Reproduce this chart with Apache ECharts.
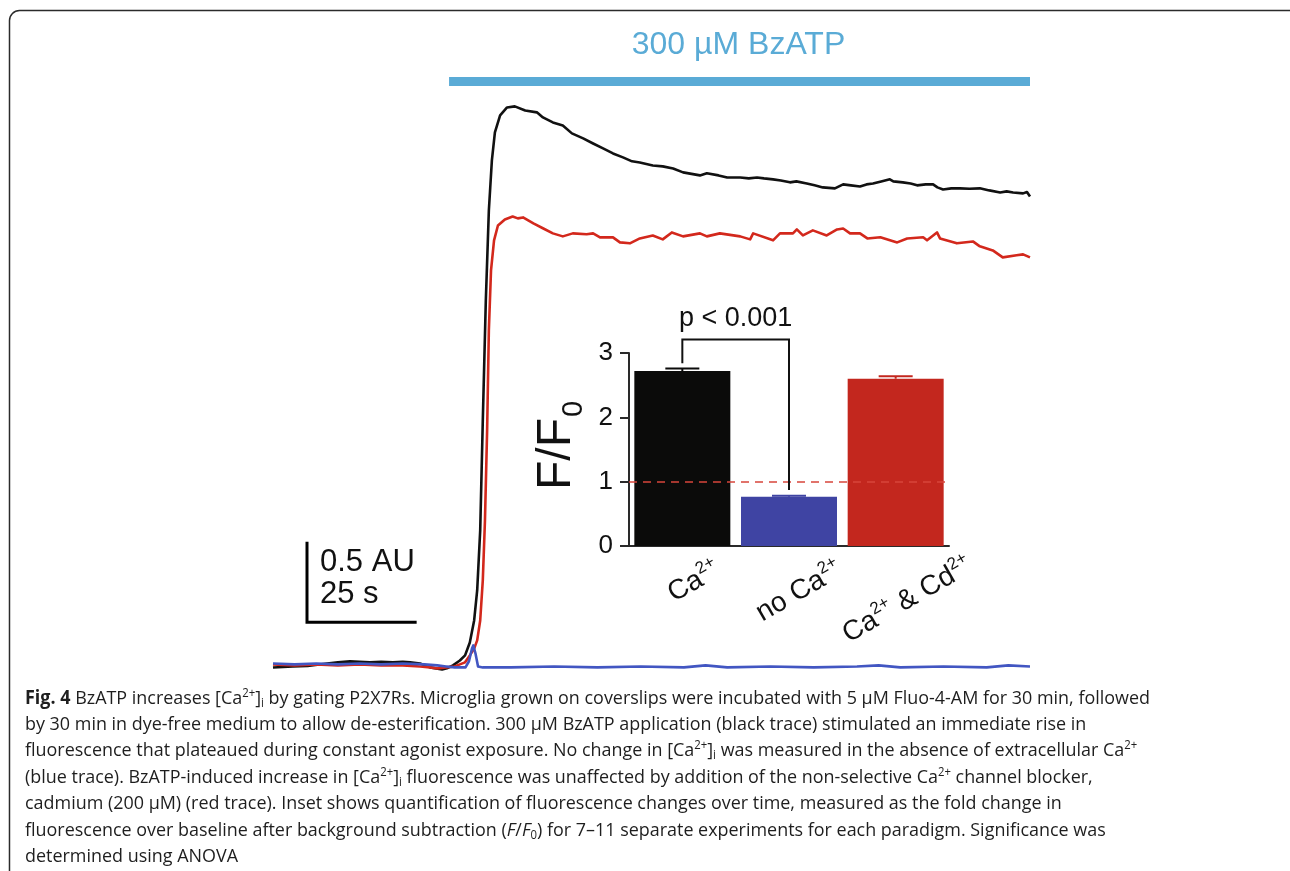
<!DOCTYPE html>
<html>
<head>
<meta charset="utf-8">
<script src="https://cdn.jsdelivr.net/npm/echarts@6/dist/echarts.min.js"></script>
<style>
  html, body { margin: 0; padding: 0; background: #fff; }
  #chart { width: 1290px; height: 871px; }
</style>
</head>
<body>
<div id="chart"></div>
<script>
// ---- Fluo-4 traces: [time (s), fluorescence (AU above baseline)] ----
const blackTrace = [
  [0, -0.02], [4.6, -0.013], [8, -0.01], [12.5, 0.006], [15, 0.013], [17.8, 0.019], [20, 0.016],
  [22.4, 0.013], [25, 0.016], [27.7, 0.013], [30, 0.016], [31.7, 0.013], [34.0, 0.006], [36.3, -0.019],
  [39.1, -0.032], [40.2, -0.025], [41.6, -0.006], [43.2, 0.025], [44.4, 0.057], [45.5, 0.139],
  [46.5, 0.278], [47.2, 0.468], [47.9, 0.848], [48.5, 1.544], [49.2, 2.304], [49.9, 2.873],
  [50.6, 3.19], [51.3, 3.367], [52.5, 3.475], [54.1, 3.525], [55.9, 3.532], [58.3, 3.506],
  [61.0, 3.494], [62.4, 3.462], [64.7, 3.43], [67.0, 3.411], [69.1, 3.361], [71.7, 3.329],
  [74.0, 3.297], [76.3, 3.266], [78.6, 3.234], [80.9, 3.209], [83.0, 3.184], [84.8, 3.177],
  [87.8, 3.158], [90.1, 3.152], [92.5, 3.139], [94.8, 3.114], [98.7, 3.095], [100.3, 3.108],
  [103.0, 3.095], [105.0, 3.082], [108.0, 3.082], [110.0, 3.076], [111.9, 3.082], [113.5, 3.076],
  [115.6, 3.070], [117.4, 3.063], [119.5, 3.051], [121.0, 3.057], [123.4, 3.044], [125.2, 3.032],
  [127.1, 3.019], [129.9, 3.013], [131.8, 3.038], [133.6, 3.032], [135.7, 3.025], [137.2, 3.038],
  [138.7, 3.044], [140.6, 3.057], [142.6, 3.070], [143.4, 3.057], [145.6, 3.051], [147.4, 3.044],
  [148.9, 3.032], [150.9, 3.038], [152.6, 3.038], [153.6, 3.019], [154.9, 3.006], [156.8, 3.013],
  [158.8, 3.013], [161.0, 3.010], [163.4, 3.013], [165.6, 3.000], [168.1, 2.987], [169.6, 2.994],
  [171.1, 2.987], [173.4, 2.981], [174.3, 2.990], [175.0, 2.962]
];
const redTrace = [
  [0, 0.0], [5, -0.006], [10, 0.0], [15, -0.006], [20, 0.0], [25, -0.006], [30, -0.006], [34, -0.013],
  [36.3, -0.019], [38, -0.025], [40, -0.019], [42, -0.013], [43.2, 0.0], [44.4, 0.013], [45.5, 0.057],
  [46.5, 0.1], [47.2, 0.152], [47.9, 0.278], [48.5, 0.532], [49.0, 0.911], [49.5, 1.481], [49.9, 2.114],
  [50.4, 2.494], [51.1, 2.684], [52.0, 2.778], [53.6, 2.816], [55.4, 2.835], [56.6, 2.823], [57.8, 2.829],
  [59.0, 2.81], [60.2, 2.791], [62.5, 2.759], [64.7, 2.728], [67.0, 2.709], [69.3, 2.728], [72.5, 2.722],
  [74.0, 2.728], [75.6, 2.703], [78.6, 2.703], [80.2, 2.671], [82.5, 2.665], [84.8, 2.696], [87.8, 2.715],
  [90.1, 2.690], [92.2, 2.734], [94.8, 2.709], [98.7, 2.728], [100.3, 2.709], [103.3, 2.728], [108.0, 2.709],
  [110.3, 2.690], [111.0, 2.728], [115.6, 2.684], [117.2, 2.728], [120.2, 2.728], [121.1, 2.753],
  [122.5, 2.715], [124.8, 2.747], [128.0, 2.715], [130.4, 2.753], [131.8, 2.759], [133.4, 2.728],
  [135.7, 2.728], [137.4, 2.696], [140.4, 2.703], [144.3, 2.671], [146.6, 2.696], [150.3, 2.703],
  [151.2, 2.684], [153.5, 2.734], [154.2, 2.696], [158.1, 2.665], [161.8, 2.677], [163.4, 2.646],
  [166.4, 2.620], [168.7, 2.576], [171.9, 2.589], [173.4, 2.595], [175.0, 2.576]
];
const blueTrace = [
  [0, 0.006], [5, 0.0], [10, 0.006], [15, 0.0], [20, 0.006], [25, 0.0], [30, 0.006], [35, 0.0],
  [38, -0.006], [40, -0.013], [42, -0.019], [44.5, -0.019], [45.3, 0.02], [46.0, 0.1], [46.3, 0.12],
  [46.8, 0.07], [47.4, -0.013], [48.5, -0.019], [55, -0.019], [65, -0.013], [75, -0.019], [85, -0.013],
  [95, -0.019], [100, -0.006], [105, -0.019], [115, -0.013], [125, -0.019], [135, -0.013], [140, -0.006],
  [145, -0.019], [155, -0.013], [165, -0.019], [170, -0.006], [175, -0.013]
];

// Agonist application window (s) and the level of its marker bar (AU)
const bzatpWindow = [40.7, 175];
const bzatpLevel = 3.69;
const bzatpLabel = '300 µM BzATP';

// Scale bar: corner point, 25 s by 0.5 AU
const scaleBarCorner = [7.86, 0.266];
const scaleBarTime = 25;
const scaleBarAmp = 0.5;
const scaleBarLabels = ['0.5 AU', '25 s'];

// ---- Inset: mean F/F0 with SEM ----
const insetCategories = ['Ca2+', 'no Ca2+', 'Ca2+ & Cd2+'];
const insetMeans = [2.72, 0.766, 2.60];
const insetSem = [0.04, 0.016, 0.04];
const insetColors = ['#0b0b0a', '#3f44a3', '#c3271e'];
const baselineRatio = 1;
const sigPair = [0, 1];
const sigBracketLevel = 3.21;
const sigFeet = [2.84, 0.87];
const sigLabel = 'p < 0.001';

// ---- Caption (rich text: b bold, t text, p superscript, s subscript, i italic) ----
const captionLines = [
  '{b|Fig. 4}{t| BzATP increases [Ca}{p|2+}{t|]}{s|i}{t| by gating P2X7Rs. Microglia grown on coverslips were incubated with 5 µM Fluo-4-AM for 30 min, followed}',
  '{t|by 30 min in dye-free medium to allow de-esterification. 300 µM BzATP application (black trace) stimulated an immediate rise in}',
  '{t|fluorescence that plateaued during constant agonist exposure. No change in [Ca}{p|2+}{t|]}{s|i}{t| was measured in the absence of extracellular Ca}{p|2+}',
  '{t|(blue trace). BzATP-induced increase in [Ca}{p|2+}{t|]}{s|i}{t| fluorescence was unaffected by addition of the non-selective Ca}{p|2+}{t| channel blocker,}',
  '{t|cadmium (200 µM) (red trace). Inset shows quantification of fluorescence changes over time, measured as the fold change in}',
  '{t|fluorescence over baseline after background subtraction (}{i|F}{t|/}{i|F}{s|0}{t|) for 7–11 separate experiments for each paradigm. Significance was}',
  '{t|determined using ANOVA}'
];

const SANS = '"Liberation Sans", Arial, sans-serif';
const CAP_FONT = '"Open Sans", "Noto Sans", sans-serif';

const capRich = {
  t: { fontSize: 19, fontFamily: CAP_FONT, lineHeight: 22, verticalAlign: 'middle', fill: '#1e1e1e' },
  b: { fontSize: 19, fontFamily: CAP_FONT, fontWeight: 'bold', lineHeight: 22, verticalAlign: 'middle', fill: '#1e1e1e' },
  i: { fontSize: 19, fontFamily: CAP_FONT, fontStyle: 'italic', lineHeight: 22, verticalAlign: 'middle', fill: '#1e1e1e' },
  p: { fontSize: 12, fontFamily: CAP_FONT, lineHeight: 12, verticalAlign: 'top', fill: '#1e1e1e' },
  s: { fontSize: 12, fontFamily: CAP_FONT, lineHeight: 12, verticalAlign: 'bottom', fill: '#1e1e1e' }
};

// measure a rich caption line so the paragraph can be fitted to its column
const measureCtx = document.createElement('canvas').getContext('2d');
function richWidth(str) {
  let w = 0;
  str.replace(/\{(\w)\|([^}]*)\}/g, function (m, k, s) {
    const st = capRich[k];
    measureCtx.font = (st.fontStyle || 'normal') + ' ' + (st.fontWeight || 'normal') + ' ' + st.fontSize + 'px ' + st.fontFamily;
    w += measureCtx.measureText(s).width;
    return m;
  });
  return w;
}
const captionLeft = 25;
const captionRight = 1150;
const capScale = (captionRight - captionLeft) / richWidth(captionLines[0]);

// rich label for an inset category: "2+" becomes a superscript
function catRich(c) {
  return ('{n|' + c.replace(/2\+/g, '}{s|2+}{n|') + '}').replace(/\{n\|\}/g, '');
}
const catRichStyle = {
  n: { fontSize: 28, fontFamily: SANS, lineHeight: 34, verticalAlign: 'middle', fill: '#111' },
  s: { fontSize: 17, fontFamily: SANS, lineHeight: 17, verticalAlign: 'top', fill: '#111' }
};
const catLabelAnchors = [[718, 568], [840, 568], [970, 564]];

const chart = echarts.init(document.getElementById('chart'), null, { renderer: 'canvas' });

const graphics = [
  // figure frame
  { type: 'rect', silent: true, z: 1,
    shape: { x: 9.5, y: 10.5, width: 1290, height: 900, r: 10 },
    style: { fill: null, stroke: '#2b2b2b', lineWidth: 1.5 } },
  { type: 'text', x: 738.5, y: 45, z: 10,
    style: { text: bzatpLabel, font: '32px ' + SANS, fill: '#5aabd6', align: 'center', verticalAlign: 'middle' } },
  { type: 'text', x: 320, y: 562, z: 10,
    style: { text: scaleBarLabels[0], font: '31px ' + SANS, fill: '#111', align: 'left', verticalAlign: 'middle' } },
  { type: 'text', x: 320, y: 594.5, z: 10,
    style: { text: scaleBarLabels[1], font: '31px ' + SANS, fill: '#111', align: 'left', verticalAlign: 'middle' } },
  // inset y-axis title F/F0
  { type: 'text', x: 557, y: 490, rotation: Math.PI / 2, z: 10,
    style: { text: 'F/F', font: '48px ' + SANS, fill: '#111', align: 'left', verticalAlign: 'middle' } },
  { type: 'text', x: 574, y: 417, rotation: Math.PI / 2, z: 10,
    style: { text: '0', font: '29px ' + SANS, fill: '#111', align: 'left', verticalAlign: 'middle' } }
];
insetCategories.forEach(function (c, k) {
  graphics.push({ type: 'text', x: catLabelAnchors[k][0], y: catLabelAnchors[k][1], rotation: Math.PI / 6, z: 10,
    style: { text: catRich(c), rich: catRichStyle, align: 'right', verticalAlign: 'middle' } });
});
captionLines.forEach(function (line, k) {
  graphics.push({ type: 'text', x: captionLeft, y: 704 + 26.4 * k - 16.9, scaleX: capScale, z: 10,
    style: { text: line, rich: capRich, align: 'left', verticalAlign: 'top' } });
});

const traceLine = function (name, data, color) {
  return { name: name, type: 'line', xAxisIndex: 0, yAxisIndex: 0, data: data, symbol: 'none',
    lineStyle: { color: color, width: 2.6, join: 'round' }, silent: true, z: 3 };
};

chart.setOption({
  animation: false,
  backgroundColor: '#fff',
  grid: [
    { left: 273, top: 64, width: 757, height: 632 },
    { left: 629, top: 353, width: 320, height: 193 }
  ],
  xAxis: [
    { type: 'value', gridIndex: 0, min: 0, max: 175, show: false },
    { type: 'category', gridIndex: 1, data: insetCategories,
      axisLine: { lineStyle: { color: '#2a2a2a', width: 2 } },
      axisTick: { show: false }, axisLabel: { show: false } }
  ],
  yAxis: [
    { type: 'value', gridIndex: 0, min: -0.2, max: 3.8, show: false },
    { type: 'value', gridIndex: 1, min: 0, max: 3, interval: 1,
      axisLine: { show: true, lineStyle: { color: '#2a2a2a', width: 2 } },
      axisTick: { show: true, length: 9, lineStyle: { color: '#2a2a2a', width: 2 } },
      axisLabel: { fontSize: 26, fontFamily: SANS, color: '#111', margin: 16 },
      splitLine: { show: false } }
  ],
  graphic: graphics,
  series: [
    { name: 'BzATP', type: 'line', xAxisIndex: 0, yAxisIndex: 0, symbol: 'none', silent: true,
      data: [[bzatpWindow[0], bzatpLevel], [bzatpWindow[1], bzatpLevel]],
      lineStyle: { color: '#5aabd6', width: 9, cap: 'butt' } },
    { name: 'scale', type: 'line', xAxisIndex: 0, yAxisIndex: 0, symbol: 'none', silent: true,
      data: [[scaleBarCorner[0], scaleBarCorner[1] + scaleBarAmp], scaleBarCorner,
             [scaleBarCorner[0] + scaleBarTime, scaleBarCorner[1]]],
      lineStyle: { color: '#000', width: 3, cap: 'square', join: 'miter' } },
    traceLine('Ca2+', blackTrace, '#111111'),
    traceLine('Ca2+ & Cd2+', redTrace, '#d3281c'),
    traceLine('no Ca2+', blueTrace, '#4256c2'),
    { name: 'F/F0', type: 'bar', xAxisIndex: 1, yAxisIndex: 1, barCategoryGap: '10%', silent: true, z: 4,
      data: insetMeans.map(function (v, k) { return { value: v, itemStyle: { color: insetColors[k] } }; }),
      markLine: { silent: true, symbol: ['none', 'none'], label: { show: false },
        lineStyle: { color: '#d8453b', type: [8, 6], width: 1.6 },
        data: [{ yAxis: baselineRatio }] } },
    { name: 'SEM', type: 'custom', xAxisIndex: 1, yAxisIndex: 1, silent: true, z: 5,
      data: insetMeans.map(function (v, k) { return [k, v, insetSem[k]]; }),
      encode: { x: 0, y: 1 },
      renderItem: function (params, api) {
        const k = api.value(0), m = api.value(1), e = api.value(2);
        const base = api.coord([k, m]);
        const top = api.coord([k, m + e]);
        const c = insetColors[params.dataIndex];
        return { type: 'group', children: [
          { type: 'line', shape: { x1: base[0], y1: base[1], x2: top[0], y2: top[1] }, style: { stroke: c, lineWidth: 2 } },
          { type: 'line', shape: { x1: top[0] - 17, y1: top[1], x2: top[0] + 17, y2: top[1] }, style: { stroke: c, lineWidth: 2 } }
        ] };
      } },
    { name: 'significance', type: 'custom', xAxisIndex: 1, yAxisIndex: 1, silent: true, z: 6,
      data: [[sigPair[0], sigPair[1], sigBracketLevel, sigFeet[0], sigFeet[1]]],
      encode: { x: 0, y: 2 },
      renderItem: function (params, api) {
        const a = api.coord([api.value(0), api.value(3)]);
        const aTop = api.coord([api.value(0), api.value(2)]);
        const bTop = api.coord([api.value(1), api.value(2)]);
        const b = api.coord([api.value(1), api.value(4)]);
        return { type: 'group', children: [
          { type: 'polyline', shape: { points: [a, aTop, bTop, b] },
            style: { stroke: '#111', lineWidth: 2, fill: null } },
          { type: 'text', x: (aTop[0] + bTop[0]) / 2, y: aTop[1] - 21.4,
            style: { text: sigLabel, font: '27px ' + SANS, fill: '#111', align: 'center', verticalAlign: 'middle' } }
        ] };
      } }
  ]
});
</script>
</body>
</html>
